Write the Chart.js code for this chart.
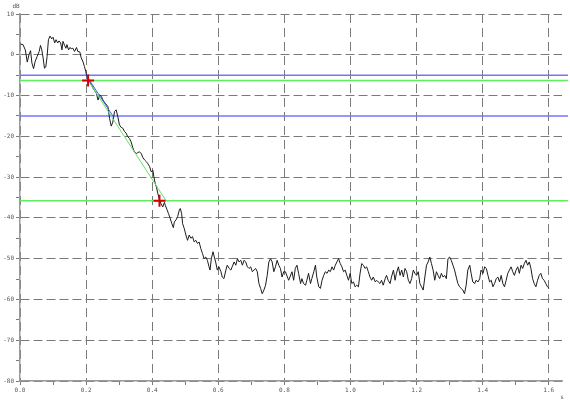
<!DOCTYPE html>
<html>
<head>
<meta charset="utf-8">
<script src="https://cdn.jsdelivr.net/npm/chart.js@4.4.1/dist/chart.umd.min.js"></script>
<style>
  html, body { margin: 0; padding: 0; background: #fff; }
  canvas { display: block; }
</style>
</head>
<body>
<canvas id="levelChart" width="570" height="405"></canvas>
<script>
// --- Data (time in s, level in dB) ---
const timeS = [
  0.002,0.009,0.016,0.022,0.027,0.032,0.036,0.041,0.046,0.052,0.058,0.062,0.066,0.070,0.074,0.078,0.082,0.086,0.091,0.096,
  0.100,0.105,0.109,0.114,0.118,0.123,0.127,0.130,0.135,0.139,0.142,0.147,0.151,0.155,0.160,0.165,0.171,0.175,0.181,0.185,
  0.191,0.195,0.199,
  0.202,0.208,0.216,0.224,0.231,0.236,0.241,0.246,0.251,0.258,0.266,0.271,0.276,0.281,0.286,0.291,0.296,0.301,0.306,0.311,
  0.316,0.321,0.326,0.331,0.336,0.341,0.346,0.352,0.356,0.361,0.367,0.371,0.377,0.382,0.386,0.392,0.397,0.402,0.405,0.409,
  0.413,0.417,0.422,0.427,0.432,0.437,0.440,0.445,0.449,0.454,0.459,0.464,
  0.467,0.472,0.477,0.482,0.485,0.489,0.492,0.497,0.502,0.507,0.512,0.517,0.522,0.527,0.532,0.537,0.542,0.547,0.552,0.557,
  0.562,0.567,0.572,0.575,0.579,0.584,0.588,0.592,0.597,0.602,0.608,0.612,0.617,0.623,0.627,0.633,0.638,0.642,0.648,0.653,
  0.658,0.663,0.668,0.673,0.678,0.683,0.688,0.693,0.698,0.703,0.708,0.713,0.718,0.723,0.728,0.733,0.738,0.743,0.748,0.753,
  0.758,0.763,0.768,0.773,0.778,0.783,0.788,0.793,0.798,
  0.803,0.813,0.823,0.828,0.833,0.838,0.843,0.849,0.853,0.858,0.864,0.868,0.873,0.879,0.883,0.889,0.894,0.898,0.904,0.909,
  0.914,0.919,0.924,0.929,0.934,0.939,0.944,0.949,0.954,0.959,0.964,0.969,0.974,0.979,0.984,0.989,0.994,0.999,1.004,1.009,
  1.014,1.019,1.024,1.029,1.034,1.039,1.044,1.049,1.054,1.059,1.064,1.069,1.075,1.079,1.084,
  1.089,1.094,1.099,1.105,1.109,1.114,1.120,1.124,1.130,1.135,1.139,1.145,1.150,1.155,1.160,1.165,1.170,1.175,1.180,1.185,
  1.190,1.195,1.200,1.205,1.210,1.215,1.220,1.225,1.230,1.235,1.240,1.245,1.250,1.255,1.260,1.265,1.270,1.275,1.280,1.285,
  1.290,1.295,1.300,1.305,1.310,1.315,1.320,1.325,1.330,1.335,1.340,1.345,1.350,1.355,1.361,1.365,1.370,1.376,1.380,1.386,
  1.391,1.395,1.401,1.406,1.411,1.416,1.421,1.426,1.431,1.436,1.441,1.446,1.451,1.456,1.461,1.466,1.471,1.476,1.481,1.486,
  1.491,1.496,1.501,1.506,1.511,1.516,1.521,1.526,1.531,1.536,1.541,1.546,1.551,1.556,1.561,1.566,1.571,1.576,1.581,1.586,
  1.591,1.596,1.601
];
const levelDb = [
  2.6,2.5,1.2,-1.8,0.0,1.0,-2.0,-3.4,-1.6,-0.4,0.8,2.3,1.2,-0.8,-3.3,-3.0,-0.4,3.7,4.6,3.9,
  4.3,2.9,3.7,2.9,3.4,2.9,1.2,3.3,2.3,1.6,2.5,1.2,1.8,1.5,1.6,0.8,1.8,0.8,0.7,-0.7,
  -1.8,-2.9,-4.1,
  -5.3,-6.1,-7.4,-8.6,-9.4,-11.1,-9.8,-10.2,-11.1,-11.9,-12.7,-15.6,-17.5,-16.5,-13.9,-13.5,-15.2,-17.2,-17.8,-18.0,
  -18.8,-19.2,-20.1,-20.5,-21.3,-22.7,-23.8,-24.2,-24.0,-23.8,-24.2,-25.1,-25.8,-26.2,-26.6,-27.4,-28.7,-28.3,-29.9,-31.5,
  -32.5,-34.0,-35.6,-36.6,-37.3,-36.2,-37.0,-38.0,-38.9,-40.0,-41.3,-42.4,
  -41.0,-40.5,-39.7,-38.1,-37.7,-38.9,-41.4,-42.6,-44.2,-45.5,-44.2,-45.0,-44.6,-45.9,-45.5,-46.3,-45.9,-47.5,-48.7,-50.0,
  -49.6,-50.4,-52.0,-52.8,-50.0,-48.3,-49.6,-50.8,-52.8,-52.0,-53.2,-54.5,-54.9,-52.8,-51.6,-52.4,-52.8,-52.0,-50.8,-51.6,
  -50.0,-50.8,-50.4,-51.6,-50.4,-50.8,-52.0,-52.4,-52.0,-53.2,-52.8,-52.4,-53.2,-56.1,-57.3,-58.6,-57.7,-56.5,-54.1,-50.8,
  -50.0,-50.8,-53.2,-52.0,-50.4,-51.6,-52.4,-54.5,-53.2,
  -53.2,-55.3,-53.2,-55.3,-52.4,-51.6,-53.6,-56.1,-54.9,-56.1,-56.5,-55.3,-53.6,-56.1,-54.9,-53.2,-51.6,-54.5,-56.9,-57.3,
  -55.3,-54.1,-53.2,-53.6,-52.8,-53.2,-52.0,-52.8,-51.6,-50.8,-50.0,-51.2,-52.0,-53.2,-52.8,-54.1,-55.3,-53.6,-56.1,-55.7,
  -56.9,-56.5,-56.9,-53.6,-51.2,-51.6,-52.4,-52.0,-53.2,-54.5,-55.3,-54.5,-55.7,-55.3,-55.7,
  -56.1,-55.3,-56.5,-54.9,-54.1,-55.3,-56.1,-54.5,-52.8,-55.3,-53.6,-52.0,-54.1,-52.8,-54.5,-52.4,-53.2,-55.3,-56.1,-54.9,
  -52.8,-53.6,-54.1,-53.2,-56.1,-56.9,-57.7,-54.5,-51.6,-50.8,-49.6,-51.2,-52.8,-55.3,-53.2,-54.1,-54.9,-53.6,-54.5,-54.1,
  -54.9,-50.0,-49.6,-50.4,-51.6,-52.8,-54.5,-56.1,-56.9,-57.3,-57.7,-58.6,-56.5,-52.8,-51.6,-53.6,-55.7,-56.1,-55.3,-55.7,
  -54.9,-52.8,-53.6,-52.0,-52.4,-54.1,-55.7,-55.3,-56.9,-56.1,-54.9,-54.5,-55.7,-54.1,-56.1,-56.9,-55.3,-53.6,-52.8,-52.0,
  -53.2,-54.1,-52.8,-52.0,-53.6,-51.6,-52.4,-51.2,-50.4,-51.6,-50.8,-52.4,-54.9,-56.1,-56.9,-55.3,-54.1,-53.6,-54.9,-55.3,
  -56.1,-56.9,-57.3
];

// horizontal reference levels (dB)
const blueLevels = [-5, -15];
const greenLevels = [-6.3, -35.8];

// cursor markers
const markerTimes = [0.206, 0.422];
const markerLevels = [-6.3, -35.8];

// fitted slope segments
const blueSlopeT = [0.200, 0.281];
const blueSlopeDb = [-5, -15];
const greenSlopeT = [0.206, 0.442];
const greenSlopeDb = [-6.3, -35.8];

// axis ranges / ticks
const xMin = 0, xMax = 1.64, xStep = 0.1;
const yMin = -80, yMax = 10, yStep = 5;
const lineEndT = 1.66;

const toPoints = (xs, ys) => xs.map((x, i) => ({ x: x, y: ys[i] }));
const flatLine = (v) => [{ x: xMin, y: v }, { x: lineEndT, y: v }];

const isMajorX = (v) => Math.round(v * 10) % 2 === 0;
const isMajorY = (v) => Math.round(v) % 10 === 0;

const GRID = '#7a7a7a';
const AXIS = '#9a9a9a';
const LABEL = '#555';
const tickFont = { family: 'DejaVu Sans Mono', size: 6 };

// unit labels
const unitLabels = {
    id: 'unitLabels',
    afterDraw(chart) {
        const ctx = chart.ctx;
        ctx.save();
        ctx.fillStyle = LABEL;
        ctx.font = '6px "DejaVu Sans Mono"';
        ctx.textAlign = 'center';
        ctx.textBaseline = 'middle';
        ctx.fillText('dB', 16, 6);
        ctx.fillText('s', 562, 397);
        ctx.restore();
    }
};

const horizontal = (v, color) => ({
    data: flatLine(v),
    borderColor: color,
    borderWidth: 1.5,
    pointRadius: 0,
    clip: { left: 0, top: 0, right: 6, bottom: 0 }
});

const ctx = document.getElementById('levelChart').getContext('2d');
new Chart(ctx, {
    type: 'line',
    data: {
        datasets: [
            {
                data: toPoints(markerTimes, markerLevels),
                showLine: false,
                pointStyle: 'cross',
                pointRadius: 6,
                borderColor: '#d00000',
                borderWidth: 2
            },
            {
                data: toPoints(blueSlopeT, blueSlopeDb),
                borderColor: '#3a5ef0',
                borderWidth: 1,
                pointRadius: 0
            },
            {
                data: toPoints(greenSlopeT, greenSlopeDb),
                borderColor: '#66e066',
                borderWidth: 1,
                pointRadius: 0
            },
            {
                data: toPoints(timeS, levelDb),
                borderColor: '#1c1c1c',
                borderWidth: 1,
                pointRadius: 0,
                tension: 0
            },
            horizontal(blueLevels[0], '#7474ff'),
            horizontal(blueLevels[1], '#7474ff'),
            horizontal(greenLevels[0], '#5cf05c'),
            horizontal(greenLevels[1], '#5cf05c')
        ]
    },
    options: {
        responsive: false,
        animation: false,
        events: [],
        layout: { padding: { top: 14, right: 5, left: 0, bottom: 0 } },
        plugins: {
            legend: { display: false },
            tooltip: { enabled: false }
        },
        scales: {
            x: {
                type: 'linear',
                min: xMin,
                max: xMax,
                afterFit: (s) => { s.height = 24; },
                ticks: {
                    stepSize: xStep,
                    includeBounds: false,
                    autoSkip: false,
                    maxRotation: 0,
                    padding: 2,
                    color: LABEL,
                    font: tickFont,
                    callback: (v) => isMajorX(v) ? v.toFixed(1) : ''
                },
                grid: {
                    color: (c) => isMajorX(c.tick.value) ? GRID : 'rgba(0,0,0,0)',
                    tickColor: GRID,
                    tickLength: 4,
                    lineWidth: 1
                },
                border: { color: AXIS, width: 1.5, dash: [9, 5] }
            },
            y: {
                min: yMin,
                max: yMax,
                afterFit: (s) => { s.width = 20; },
                ticks: {
                    stepSize: yStep,
                    autoSkip: false,
                    padding: 2,
                    color: LABEL,
                    font: tickFont,
                    callback: (v) => isMajorY(v) ? String(v) : ''
                },
                grid: {
                    color: (c) => isMajorY(c.tick.value) ? GRID : 'rgba(0,0,0,0)',
                    tickColor: GRID,
                    tickLength: 4,
                    lineWidth: 1
                },
                border: { color: AXIS, width: 1.5, dash: [9, 4] }
            }
        }
    },
    plugins: [unitLabels]
});
</script>
</body>
</html>
